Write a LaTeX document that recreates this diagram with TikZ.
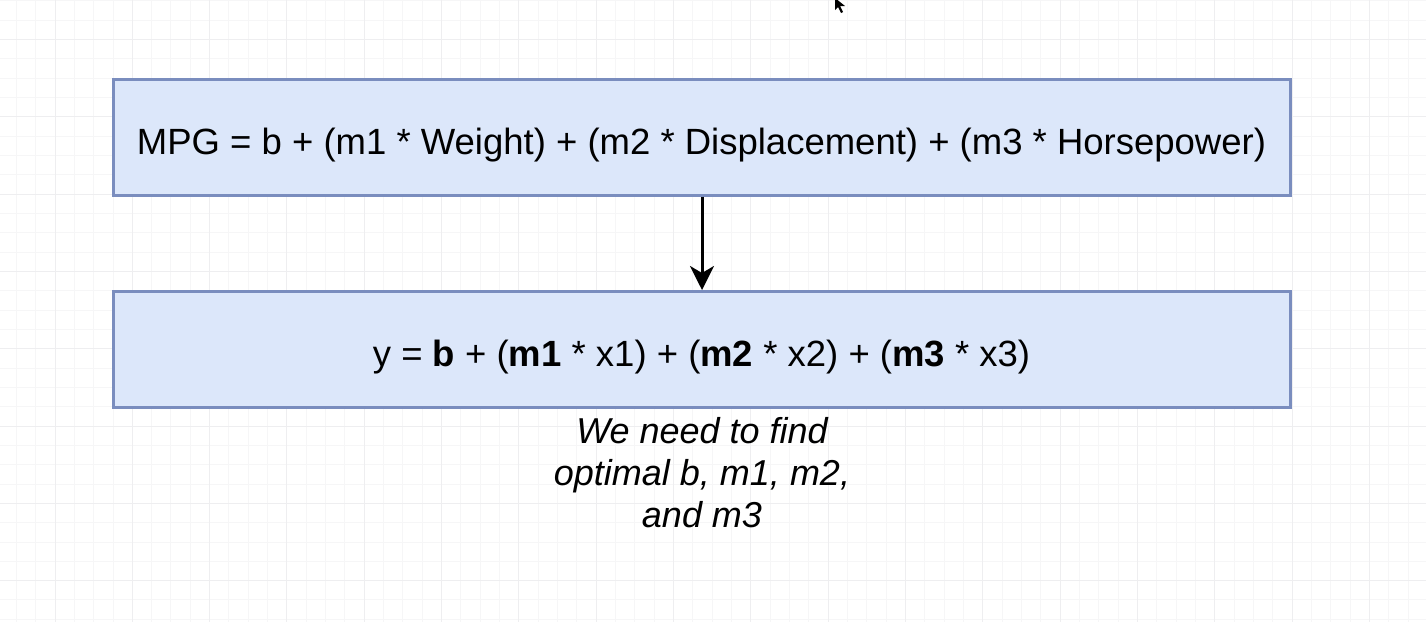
\documentclass[tikz,border=0pt]{standalone}
\usepackage{fontspec}
\setmainfont{Liberation Sans}
\usetikzlibrary{arrows.meta}
\definecolor{boxfill}{HTML}{DCE7FA}
\definecolor{boxline}{HTML}{7A8DBE}
\definecolor{gridminor}{HTML}{F6F6F7}
\definecolor{gridmajor}{HTML}{EEEEF0}
\tikzset{
  eqbox/.style={draw=boxline, fill=boxfill, line width=3pt, rectangle,
    minimum width=1177pt, minimum height=116pt, inner sep=0pt,
    text height=38pt, text depth=4pt,
    font=\fontsize{36.5}{42}\selectfont},
  note/.style={align=center, font=\fontsize{36}{42}\selectfont\itshape},
  conn/.style={line width=3pt, -{Stealth[length=24pt,width=24pt,inset=7pt]}}
}
\begin{document}
\begin{tikzpicture}[x=1pt,y=-1pt]
\useasboundingbox (0,0) rectangle (1426,622);
\fill[white] (0,0) rectangle (1426,622);
% minor grid
\foreach \i in {0,...,74} {
  \draw[gridminor, line width=0.9pt] ({16.3+19.33*\i},0) -- ({16.3+19.33*\i},622);
}
\foreach \j in {0,...,32} {
  \draw[gridminor, line width=0.9pt] (0,{0.7+19.33*\j}) -- (1426,{0.7+19.33*\j});
}
% major grid
\foreach \i in {0,...,18} {
  \draw[gridmajor, line width=1pt] ({55+77.33*\i},0) -- ({55+77.33*\i},622);
}
\foreach \j in {0,...,7} {
  \draw[gridmajor, line width=1pt] (0,{39.5+77.33*\j}) -- (1426,{39.5+77.33*\j});
}
% cursor
\fill[black] (835,-2) -- (835,10) -- (838,7) -- (841,13) -- (843,12) -- (840,6) -- (845,6) -- cycle;

\node[eqbox] (top) at (701.5,137) {MPG = b + (m1 * Weight) + (m2 * Displacement) + (m3 * Horsepower)};
\node[eqbox] (bot) at (701.5,349.5) {y = \textbf{b} + (\textbf{m1} * x1) + (\textbf{m2} * x2) + (\textbf{m3} * x3)};
\node[note] (txt) at (702,473) {We need to find\\optimal b, m1, m2,\\and m3};
\draw[conn] (top.south -| 702,0) -- (bot.north -| 702,0);
\end{tikzpicture}
\end{document}
